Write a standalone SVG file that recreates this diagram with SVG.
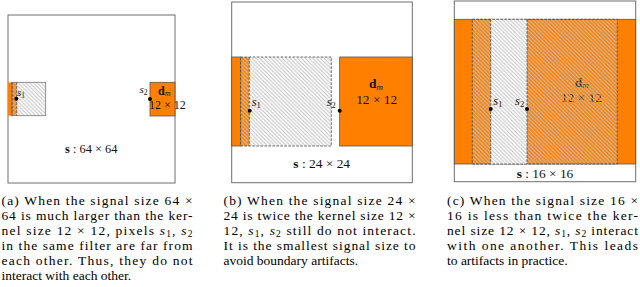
<svg xmlns="http://www.w3.org/2000/svg" width="640" height="287" viewBox="0 0 640 287">
<defs>
<pattern id="hatch" patternUnits="userSpaceOnUse" width="3.8" height="3.8">
<path d="M-1,-1 L4.8,4.8 M2.8,-1 L4.8,1 M-1,2.8 L1,4.8" stroke="#c2c2c2" stroke-width="1" fill="none"/>
</pattern>
</defs>
<style>
.frame{fill:#fff;stroke:#6e6e6e;stroke-width:1}
.or{fill:#ff8000;stroke:none}
.ors{fill:#ff8000;stroke:#555;stroke-width:0.8}
.ht{fill:url(#hatch);stroke:#444;stroke-width:0.8;stroke-dasharray:2.5 1.5}
.dash{stroke:#444;stroke-width:0.8;stroke-dasharray:2.5 1.5;fill:none}
.dot{fill:#000}
.m{font-family:"Liberation Serif","Times New Roman",serif;fill:#111}
.cap{font-family:"Liberation Serif","Times New Roman",serif;font-size:13.5px;fill:#000}
.i{font-style:italic}
.b{font-weight:bold}
</style>

<g id="panel-a">
<rect class="frame" x="8" y="15" width="167" height="168"/>
<g id="a-filter">
<rect class="or" x="8" y="82.3" width="4" height="33.4"/>
<rect class="or" x="12" y="82.3" width="4.7" height="33.4"/>
<rect x="12" y="82.3" width="33.7" height="33.4" fill="url(#hatch)" stroke="#777" stroke-width="0.8"/>
<line class="dash" x1="12" y1="82.3" x2="12" y2="115.7"/>
<line class="dash" x1="16.7" y1="82.3" x2="16.7" y2="115.7"/>
</g>
<g id="a-dm">
<rect class="ors" x="150" y="82.3" width="25" height="33.7"/>
<text class="m" x="158" y="94.5" font-size="12"><tspan class="b">d</tspan><tspan class="i" font-size="8" dy="1.5">m</tspan></text>
<text class="m" x="149" y="108.5" font-size="12">12 × 12</text>
</g>
<g id="a-s1">
<circle class="dot" cx="16.3" cy="98.7" r="2"/>
<text class="m" x="17" y="96" font-size="11"><tspan class="i">s</tspan><tspan font-size="7.5" dy="2">1</tspan></text>
</g>
<g id="a-s2">
<circle class="dot" cx="150" cy="99" r="2"/>
<text class="m" x="139.5" y="93" font-size="11"><tspan class="i">s</tspan><tspan font-size="7.5" dy="2">2</tspan></text>
</g>
<text class="m" x="91.2" y="153" font-size="12.4" text-anchor="middle"><tspan class="b">s</tspan> : 64 × 64</text>
</g>

<g id="panel-b">
<rect class="frame" x="231.7" y="2" width="180.6" height="180.7"/>
<rect class="ors" x="231.7" y="57" width="9" height="89"/>
<g id="b-filter">
<rect class="or" x="240.7" y="57" width="8.6" height="89"/>
<rect class="ht" x="240.7" y="57" width="90.6" height="89"/>
<line class="dash" x1="249.3" y1="57" x2="249.3" y2="146"/>
</g>
<g id="b-dm">
<rect class="ors" x="339.7" y="57" width="72.6" height="89"/>
<text class="m" x="376" y="88" font-size="13.4" text-anchor="middle"><tspan class="b">d</tspan><tspan class="i" font-size="9" dy="1.5">m</tspan></text>
<text class="m" x="376.7" y="103.5" font-size="13.4" text-anchor="middle">12 × 12</text>
</g>
<g id="b-s1">
<circle class="dot" cx="249.7" cy="110.7" r="2"/>
<text class="m" x="251.7" y="106" font-size="12.5"><tspan class="i">s</tspan><tspan font-size="8.5" dy="2">1</tspan></text>
</g>
<g id="b-s2">
<circle class="dot" cx="339.7" cy="110.7" r="2"/>
<text class="m" x="326.7" y="106" font-size="12.5"><tspan class="i">s</tspan><tspan font-size="8.5" dy="2">2</tspan></text>
</g>
<text class="m" x="321.7" y="168.3" font-size="13.4" text-anchor="middle"><tspan class="b">s</tspan> : 24 × 24</text>
</g>

<g id="panel-c">
<rect class="frame" x="454.3" y="1" width="181.4" height="180.7"/>
<rect class="ors" x="454.3" y="19.3" width="181.4" height="144.7"/>
<rect x="490.7" y="19.3" width="36.3" height="144.7" fill="#fff"/>
<g id="c-dm">
<text class="m" x="581.7" y="86.5" font-size="13.4" text-anchor="middle" fill="#333"><tspan class="b">d</tspan><tspan class="i" font-size="9" dy="1.5">m</tspan></text>
<text class="m" x="581.4" y="101.8" font-size="13.4" text-anchor="middle" fill="#333">12 × 12</text>
</g>
<g id="c-filter">
<rect class="ht" x="472.3" y="19.3" width="145" height="144.7"/>
<line class="dash" x1="490.7" y1="19.3" x2="490.7" y2="164"/>
<line class="dash" x1="527" y1="19.3" x2="527" y2="164"/>
</g>
<g id="c-s1">
<circle class="dot" cx="490.7" cy="109" r="2"/>
<text class="m" x="493.3" y="105" font-size="12.5"><tspan class="i">s</tspan><tspan font-size="8.5" dy="2">1</tspan></text>
</g>
<g id="c-s2">
<circle class="dot" cx="527" cy="109" r="2"/>
<text class="m" x="515" y="105" font-size="12.5"><tspan class="i">s</tspan><tspan font-size="8.5" dy="2">2</tspan></text>
</g>
<text class="m" x="545" y="177.7" font-size="13.4" text-anchor="middle"><tspan class="b">s</tspan> : 16 × 16</text>
</g>

<g id="caption-a" class="cap">
<text x="1.5" y="205" textLength="191" lengthAdjust="spacing">(a) When the signal size 64 ×</text>
<text x="1.5" y="220" textLength="191" lengthAdjust="spacing">64 is much larger than the ker-</text>
<text x="1.5" y="235" textLength="191" lengthAdjust="spacing">nel size 12 × 12, pixels <tspan class="i">s</tspan><tspan font-size="9.5" dy="2">1</tspan><tspan dy="-2">, </tspan><tspan class="i">s</tspan><tspan font-size="9.5" dy="2">2</tspan></text>
<text x="1.5" y="250" textLength="191" lengthAdjust="spacing">in the same filter are far from</text>
<text x="1.5" y="265" textLength="191" lengthAdjust="spacing">each other. Thus, they do not</text>
<text x="1.5" y="280">interact with each other.</text>
</g>

<g id="caption-b" class="cap">
<text x="223.5" y="205" textLength="192" lengthAdjust="spacing">(b) When the signal size 24 ×</text>
<text x="223.5" y="220" textLength="192" lengthAdjust="spacing">24 is twice the kernel size 12 ×</text>
<text x="223.5" y="235" textLength="192" lengthAdjust="spacing">12, <tspan class="i">s</tspan><tspan font-size="9.5" dy="2">1</tspan><tspan dy="-2">, </tspan><tspan class="i">s</tspan><tspan font-size="9.5" dy="2">2</tspan><tspan dy="-2"> still do not interact.</tspan></text>
<text x="223.5" y="250" textLength="192" lengthAdjust="spacing">It is the smallest signal size to</text>
<text x="223.5" y="265">avoid boundary artifacts.</text>
</g>

<g id="caption-c" class="cap">
<text x="447" y="205" textLength="191" lengthAdjust="spacing">(c) When the signal size 16 ×</text>
<text x="447" y="220" textLength="191" lengthAdjust="spacing">16 is less than twice the ker-</text>
<text x="447" y="235" textLength="191" lengthAdjust="spacing">nel size 12 × 12, <tspan class="i">s</tspan><tspan font-size="9.5" dy="2">1</tspan><tspan dy="-2">, </tspan><tspan class="i">s</tspan><tspan font-size="9.5" dy="2">2</tspan><tspan dy="-2"> interact</tspan></text>
<text x="447" y="250" textLength="191" lengthAdjust="spacing">with one another. This leads</text>
<text x="447" y="265">to artifacts in practice.</text>
</g>
</svg>
